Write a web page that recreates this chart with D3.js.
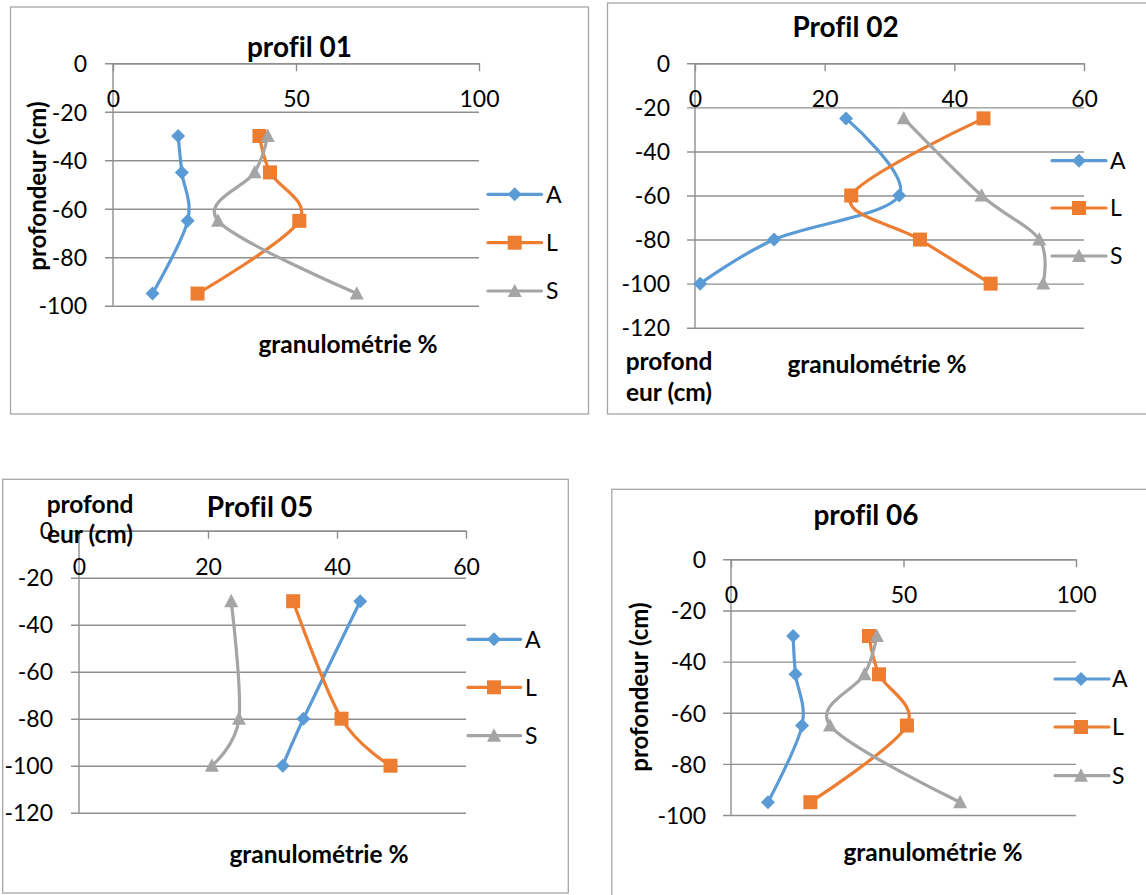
<!DOCTYPE html>
<html>
<head>
<meta charset="utf-8">
<script src="https://cdn.jsdelivr.net/npm/d3@7"></script>
<style>
  html, body { margin: 0; padding: 0; background: #fff; }
  svg { display: block; }
  text { font-family: Lato, "Open Sans", sans-serif; fill: #000; font-variant-ligatures: none; font-feature-settings: "liga" 0; }
</style>
</head>
<body>
<svg id="chart" width="1146" height="895"></svg>
<script>
// ---------------- DATA ----------------
const seriesNames = ["A", "L", "S"];

const depth01 = [-30, -45, -65, -95];
const A01 = [17.8, 18.8, 20.4, 10.8];
const L01 = [40.0, 42.9, 50.9, 23.1];
const S01 = [42.3, 38.7, 28.7, 66.6];

const depth02 = [-25, -60, -80, -100];
const A02 = [23.3, 31.5, 12.2, 0.8];
const L02 = [44.5, 24.1, 34.7, 45.6];
const S02 = [32.2, 44.2, 53.1, 53.7];

const depth05 = [-30, -80, -100];
const A05 = [43.6, 34.8, 31.6];
const L05 = [33.2, 40.7, 48.3];
const S05 = [23.6, 24.8, 20.6];

const depth06 = [-30, -45, -65, -95];
const A06 = [18.0, 18.7, 20.6, 10.7];
const L06 = [40.0, 42.9, 51.0, 23.0];
const S06 = [42.3, 38.7, 28.7, 66.4];

const xTicks100 = [0, 50, 100];
const xTicks60 = [0, 20, 40, 60];
const yTicks100 = [0, -20, -40, -60, -80, -100];
const yTicks120 = [0, -20, -40, -60, -80, -100, -120];

const titles = ["profil 01", "Profil 02", "Profil 05", "profil 06"];
const xTitle = "granulométrie %";
const yTitle = "profondeur (cm)";
const yTitleSplit = ["profond", "eur (cm)"];

// ---------------- STYLE / LAYOUT ----------------
const colors = { A: "#5B9BD5", L: "#ED7D31", S: "#A5A5A5" };
const gridColor = "#8f8f8f";
const frameColor = "#a6a6a6";
const tickFont = "23px";
const legendFont = "23px";

const panels = [
  {
    title: titles[0], depth: depth01, values: { A: A01, L: L01, S: S01 },
    xDomain: [0, 100], yDomain: [0, -100], xTicks: xTicks100, yTicks: yTicks100,
    frame: [10.5, 7, 578, 407],
    plot: [113, 479, 63.3, 305.7],
    titlePos: [299.5, 57],
    yTitleRot: [37, 186], yTitleLines: null,
    xTitlePos: [348, 353],
    yLabelRight: 87, xLabelBase: 107,
    legend: { x0: 488, x1: 541.5, mx: 514.7, tx: 546, ys: [194.3, 242.7, 291] }
  },
  {
    title: titles[1], depth: depth02, values: { A: A02, L: L02, S: S02 },
    xDomain: [0, 60], yDomain: [0, -120], xTicks: xTicks60, yTicks: yTicks120,
    frame: [607.5, 3, 560, 411],
    plot: [695, 1084, 63.3, 327.7],
    titlePos: [845.6, 37],
    yTitleRot: null, yTitleLines: { x: 669, ys: [370, 401] },
    xTitlePos: [877, 373],
    yLabelRight: 670, xLabelBase: 107,
    legend: { x0: 1052, x1: 1106, mx: 1079, tx: 1110, ys: [160.7, 208, 256] }
  },
  {
    title: titles[2], depth: depth05, values: { A: A05, L: L05, S: S05 },
    xDomain: [0, 60], yDomain: [0, -120], xTicks: xTicks60, yTicks: yTicks120,
    frame: [2.7, 479.3, 565.6, 413.7],
    plot: [79, 466, 530.7, 812.7],
    titlePos: [260, 516.7],
    yTitleRot: null, yTitleLines: { x: 90, ys: [513, 543] },
    xTitlePos: [319, 863],
    yLabelRight: 53, xLabelBase: 575,
    legend: { x0: 468, x1: 520.7, mx: 494, tx: 525, ys: [639.3, 687.3, 735.7] }
  },
  {
    title: titles[3], depth: depth06, values: { A: A06, L: L06, S: S06 },
    xDomain: [0, 100], yDomain: [0, -100], xTicks: xTicks100, yTicks: yTicks100,
    frame: [611.8, 489.3, 560, 420],
    plot: [731, 1076, 559.3, 815],
    titlePos: [866, 525],
    yTitleRot: [639, 687], yTitleLines: null,
    xTitlePos: [933, 861],
    yLabelRight: 706, xLabelBase: 603,
    legend: { x0: 1055, x1: 1109, mx: 1081, tx: 1112, ys: [679, 727, 775.7] }
  }
];

const svg = d3.select("#chart");

// custom marker shapes (size argument = half-extent in px)
const diamondType = { draw(ctx, r) { ctx.moveTo(0, -r); ctx.lineTo(r, 0); ctx.lineTo(0, r); ctx.lineTo(-r, 0); ctx.closePath(); } };
const squareType = { draw(ctx, r) { ctx.rect(-r, -r, 2 * r, 2 * r); } };
const triangleType = { draw(ctx, r) { ctx.moveTo(0, -r * 1.05); ctx.lineTo(r, r * 0.85); ctx.lineTo(-r, r * 0.85); ctx.closePath(); } };

const symbolFor = {
  A: d3.symbol().type(diamondType).size(7),
  L: d3.symbol().type(squareType).size(7),
  S: d3.symbol().type(triangleType).size(7)
};

const fmt = d => String(d);

function drawPanel(p) {
  const g = svg.append("g");
  const [px0, px1, py0, py1] = p.plot;
  const x = d3.scaleLinear().domain(p.xDomain).range([px0, px1]);
  const y = d3.scaleLinear().domain(p.yDomain).range([py0, py1]);

  // frame
  g.append("rect")
    .attr("x", p.frame[0]).attr("y", p.frame[1])
    .attr("width", p.frame[2]).attr("height", p.frame[3])
    .attr("fill", "#fff").attr("stroke", frameColor).attr("stroke-width", 1.3);

  // y axis with gridlines
  const yAxis = d3.axisLeft(y).tickValues(p.yTicks).tickFormat(fmt)
    .tickSize(-(px1 - px0)).tickSizeOuter(0).tickPadding(0);
  const ya = g.append("g").attr("transform", `translate(${px0},0)`).call(yAxis);
  ya.select(".domain").remove();
  ya.selectAll(".tick line").attr("x1", -8).attr("x2", px1 - px0)
    .attr("stroke", gridColor).attr("stroke-width", 1.4);
  ya.selectAll(".tick text")
    .attr("x", -(px0 - p.yLabelRight)).attr("dy", "0.36em")
    .style("font-family", "Lato").style("font-size", tickFont).attr("fill", "#000");

  // vertical axis line at x = 0
  g.append("line")
    .attr("x1", x(0)).attr("x2", x(0)).attr("y1", y(p.yDomain[0])).attr("y2", y(p.yDomain[1]))
    .attr("stroke", gridColor).attr("stroke-width", 1.4);

  // x axis on top (at depth 0), ticks pointing down
  const xAxis = d3.axisTop(x).tickValues(p.xTicks).tickFormat(fmt)
    .tickSizeInner(-8).tickSizeOuter(0);
  const xa = g.append("g").attr("transform", `translate(0,${y(0)})`).call(xAxis);
  xa.select(".domain").attr("stroke", gridColor).attr("stroke-width", 1.4);
  xa.selectAll(".tick line").attr("stroke", gridColor).attr("stroke-width", 1.4);
  xa.selectAll(".tick text")
    .attr("y", p.xLabelBase - y(0)).attr("dy", "0")
    .style("font-family", "Lato").style("font-size", tickFont).attr("fill", "#000");

  // series
  const line = d3.line().curve(d3.curveCatmullRom.alpha(0))
    .x(d => x(d.v)).y(d => y(d.d));
  seriesNames.forEach(name => {
    const pts = p.values[name].map((v, i) => ({ v: v, d: p.depth[i] }));
    g.append("path").datum(pts)
      .attr("d", line).attr("fill", "none")
      .attr("stroke", colors[name]).attr("stroke-width", 3.2)
      .attr("stroke-linejoin", "round").attr("stroke-linecap", "round");
    g.selectAll(null).data(pts).enter().append("path")
      .attr("d", symbolFor[name])
      .attr("transform", d => `translate(${x(d.v)},${y(d.d)})`)
      .attr("fill", colors[name]);
  });

  // legend
  seriesNames.forEach((name, i) => {
    const ly = p.legend.ys[i];
    g.append("line")
      .attr("x1", p.legend.x0).attr("x2", p.legend.x1).attr("y1", ly).attr("y2", ly)
      .attr("stroke", colors[name]).attr("stroke-width", 3.2).attr("stroke-linecap", "round");
    g.append("path").attr("d", symbolFor[name])
      .attr("transform", `translate(${p.legend.mx},${ly})`).attr("fill", colors[name]);
    g.append("text").attr("x", p.legend.tx).attr("y", ly).attr("dy", "0.36em")
      .style("font-size", legendFont).text(name);
  });

  // title
  g.append("text").attr("x", p.titlePos[0]).attr("y", p.titlePos[1])
    .attr("text-anchor", "middle").style("font-size", "28px").style("font-weight", "bold")
    .text(p.title);

  // x title
  g.append("text").attr("x", p.xTitlePos[0]).attr("y", p.xTitlePos[1])
    .attr("text-anchor", "middle").style("font-size", "24.5px").style("font-weight", "bold")
    .text(xTitle);

  // y title
  if (p.yTitleRot) {
    g.append("text")
      .attr("transform", `translate(${p.yTitleRot[0]},${p.yTitleRot[1]}) rotate(-90)`)
      .attr("text-anchor", "middle").attr("dy", "0.36em")
      .style("font-size", "24px").style("font-weight", "bold")
      .text(yTitle);
  } else {
    yTitleSplit.forEach((t, i) => {
      g.append("text").attr("x", p.yTitleLines.x).attr("y", p.yTitleLines.ys[i])
        .attr("text-anchor", "middle").style("font-size", "24.5px").style("font-weight", "bold")
        .text(t);
    });
  }
}

panels.forEach(drawPanel);
</script>
</body>
</html>
